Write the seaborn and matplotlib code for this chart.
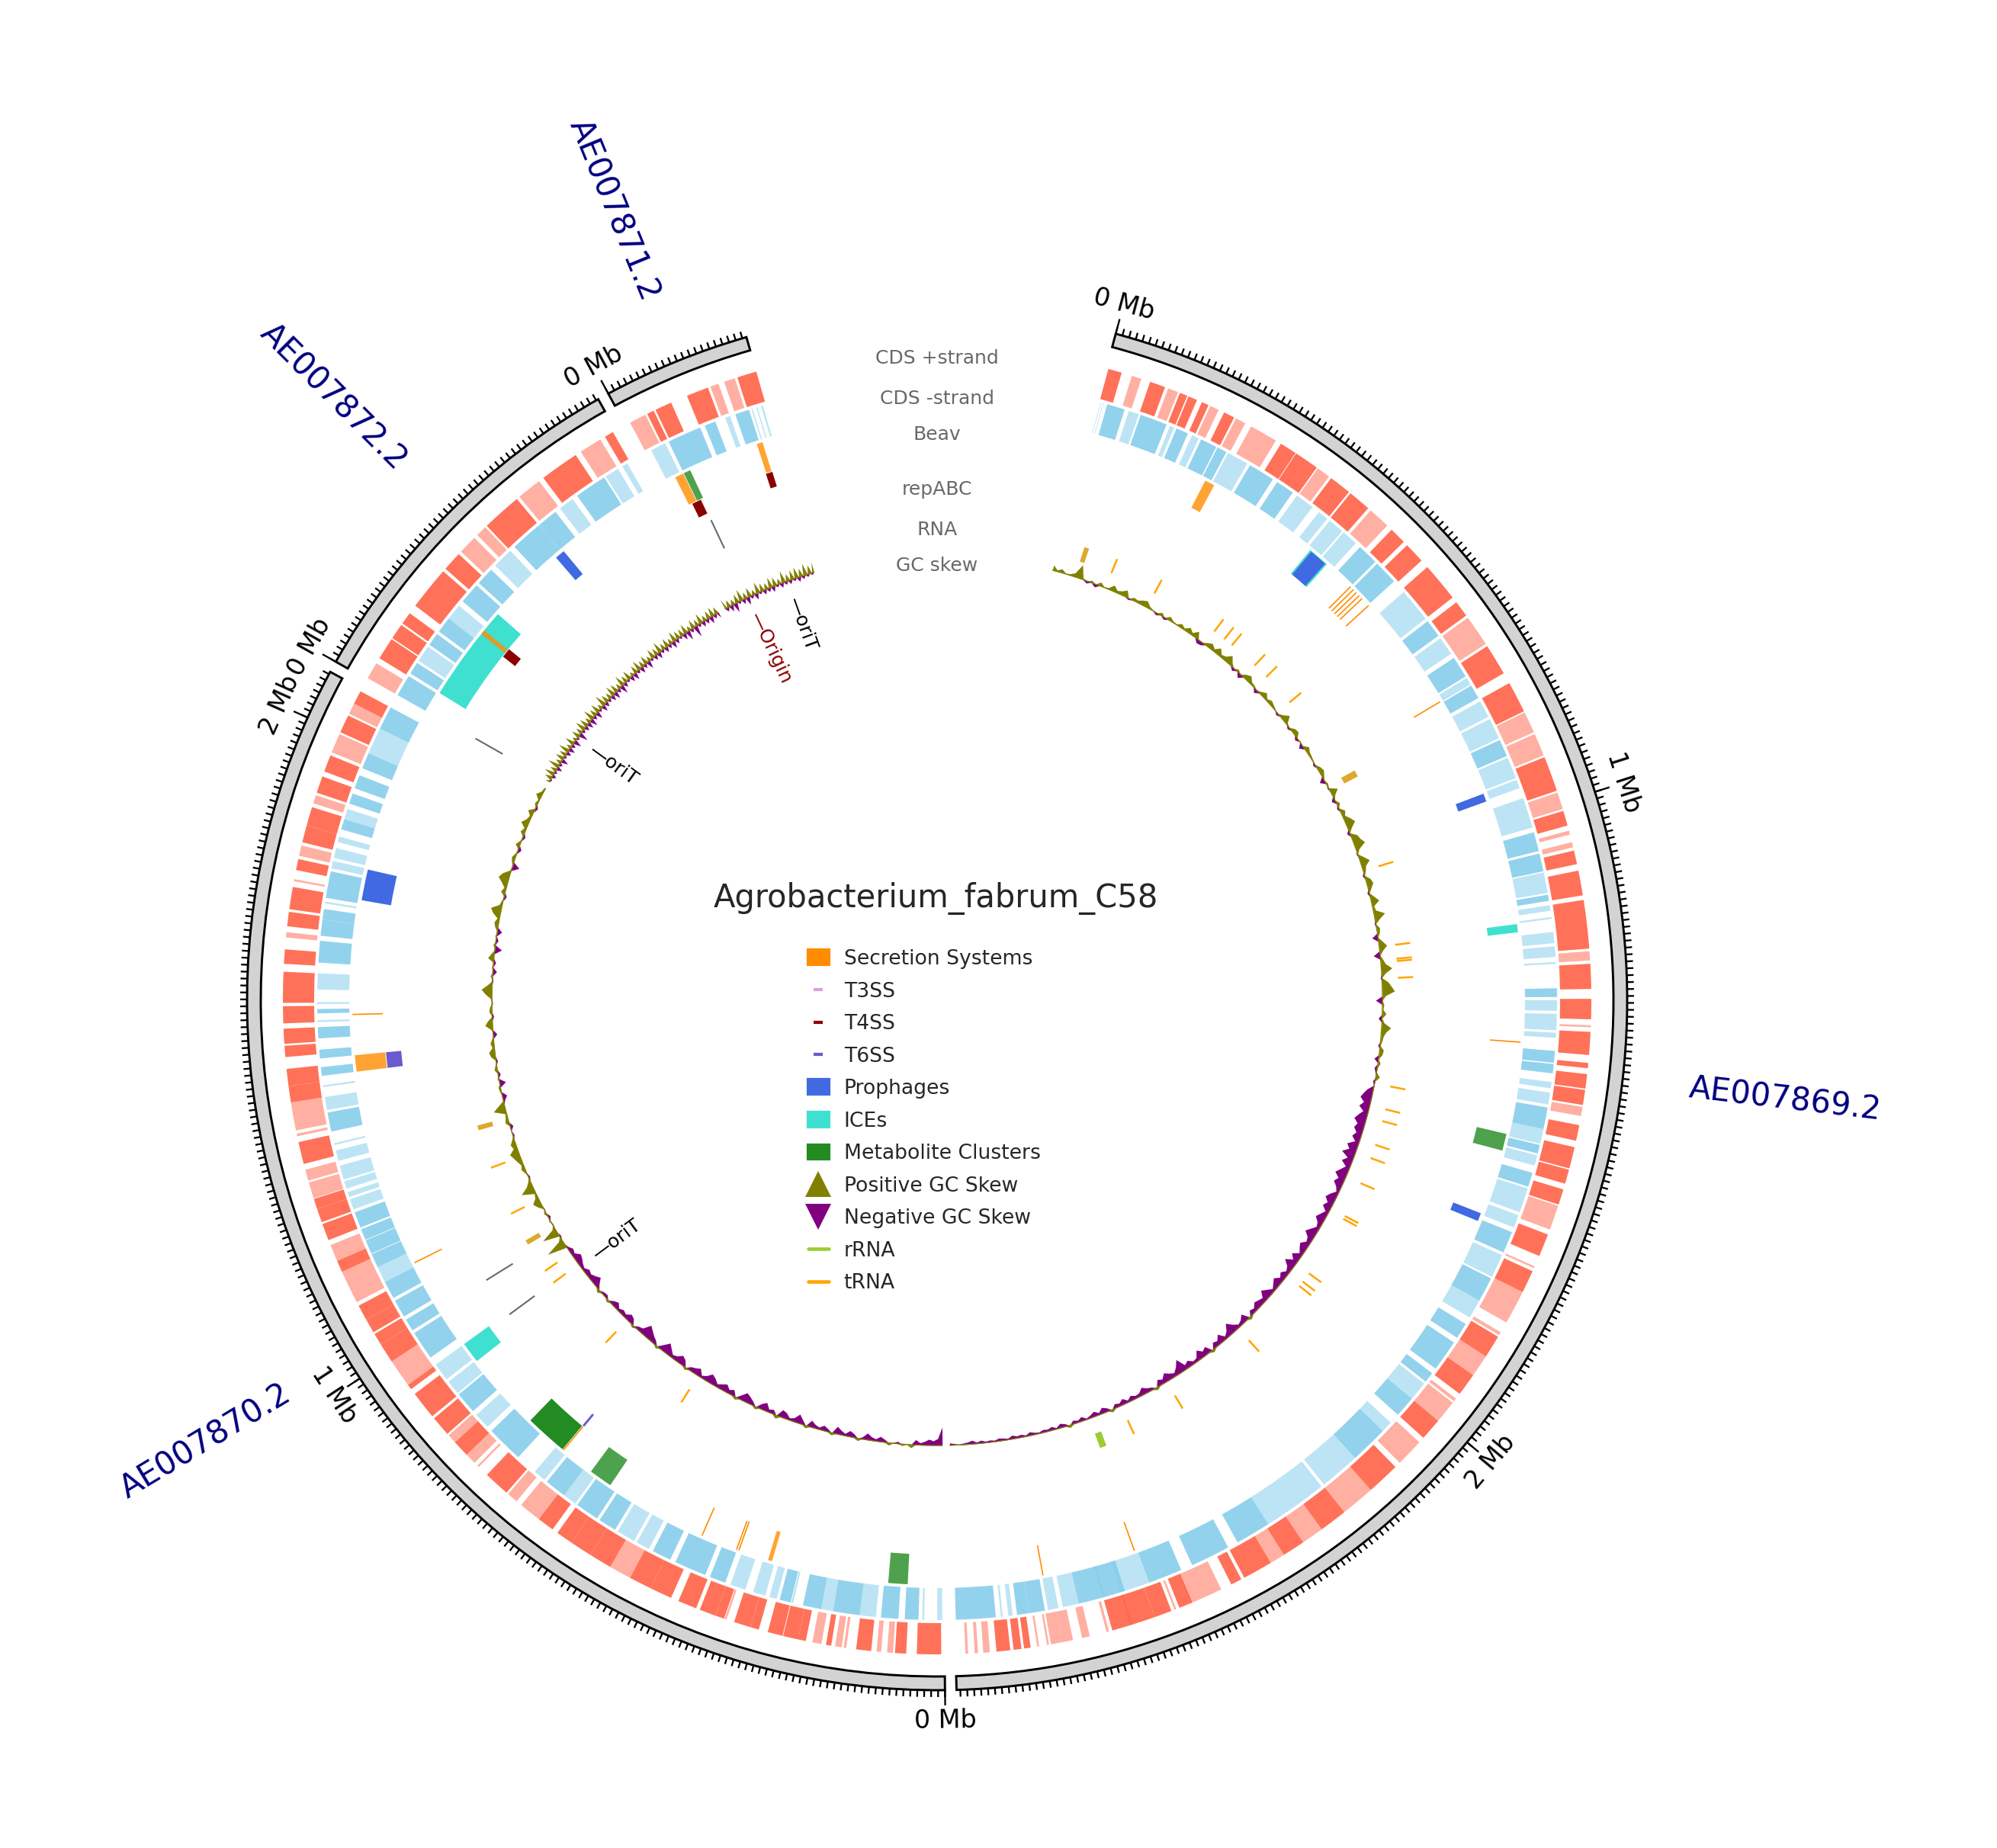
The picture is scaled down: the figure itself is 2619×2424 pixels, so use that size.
#!/usr/bin/env python3
"""Circular genome map of Agrobacterium fabrum C58 drawn on a polar axis"""

import numpy as np
import matplotlib
matplotlib.use('Agg')
import matplotlib.pyplot as plt
from matplotlib.lines import Line2D
from matplotlib.patches import Patch
import seaborn as sns

W, H = 2620, 2424

sector_names = ['AE007869.2', 'AE007870.2', 'AE007872.2', 'AE007871.2']
sector_len = [2817, 2053, 538, 214]
READ_PER_MB = 990
DEG_PER_KB = 0.058

# CDS + strand, (start, end) kb, dense runs and loosely packed runs
plus_869_dense = [(3,24),(69,93),(117,129),(131,145),(153,164),(190,207),(288,314),(315,353),(380,414),(417,452),
    (500,526),(533,565),(578,638),(647,672),(728,776),(793,841),(917,971),(1003,1026),(1065,1086),(1096,1134),
    (1141,1215),(1238,1276),(1291,1322),(1341,1376),(1388,1396),(1405,1427),(1429,1452),(1483,1507),(1517,1550),
    (1552,1574),(1583,1607),(1655,1690),(1715,1750),(1827,1862),(1896,1931),(1983,2017),(2078,2129),(2181,2224),
    (2258,2293),(2316,2362),(2367,2384),(2449,2470),(2483,2510),(2510,2548),(2546,2577),(2703,2713),(2717,2729),(2734,2755)]
plus_869_sparse = [(40,55),(98,114),(167,181),(210,226),(236,279),(355,376),(457,491),(676,724),(843,876),(879,914),
    (974,1000),(1034,1040),(1052,1060),(1219,1233),(1331,1334),(1455,1469),(1609,1647),(1707,1710),(1750,1802),
    (1819,1824),(1862,1896),(1940,1945),(1948,1983),(2026,2034),(2034,2069),(2129,2181),(2224,2258),(2293,2316),
    (2401,2451),(2475,2478),(2582,2586),(2612,2624),(2638,2655),(2655,2672),(2675,2678),(2690,2693),(2765,2775),
    (2783,2788),(2798,2802)]
plus_870_dense = [(5,42),(58,75),(111,134),(172,180),(211,223),(223,246),(247,270),(284,297),(297,323),(339,353),
    (353,378),(384,413),(425,459),(459,494),(528,563),(563,597),(597,623),(632,658),(721,761),(804,830),(847,878),
    (882,925),(934,942),(985,1016),(1016,1034),(1037,1059),(1059,1083),(1140,1158),(1192,1218),(1221,1242),
    (1242,1258),(1313,1347),(1408,1433),(1433,1459),(1477,1494),(1497,1520),(1528,1554),(1559,1606),(1618,1640),
    (1675,1697),(1701,1735),(1761,1778),(1804,1830),(1830,1859),(1882,1908),(1916,1942),(1980,2008),(2028,2049)]
plus_870_sparse = [(78,87),(96,103),(149,153),(156,166),(187,201),(335,338),(494,528),(658,692),(701,718),(778,781),
    (787,804),(830,844),(942,985),(1089,1115),(1115,1140),(1158,1184),(1259,1284),(1287,1304),(1356,1360),(1365,1408),
    (1658,1666),(1744,1747),(1783,1799),(1865,1878),(1947,1977),(2011,2028)]
plus_872_dense = [(37,71),(73,97),(100,119),(133,200),(205,235),(295,356),(407,467),(519,533)]
plus_872_sparse = [(2,28),(240,269),(275,292),(361,399),(476,511)]
plus_871_dense = [(37,48),(51,77),(103,137),(184,214)]
plus_871_sparse = [(8,34),(141,154),(163,180)]

# CDS - strand
minus_869_dense = [(16,45),(72,116),(133,153),(176,203),(205,221),(264,307),(315,345),(483,517),(521,560),(643,672),
    (715,750),(767,790),(865,893),(1022,1053),(1057,1086),(1124,1134),(1274,1288),(1374,1393),(1395,1410),(1465,1500),
    (1526,1540),(1572,1595),(1672,1707),(1753,1793),(1836,1862),(1871,1922),(1931,1948),(1983,2017),(2052,2114),
    (2288,2345),(2362,2426),(2445,2500),(2541,2577),(2574,2617),(2672,2698),(2698,2717),(2751,2815)]
minus_869_sparse = [(5,6),(9,10),(52,69),(122,129),(160,172),(224,259),(353,384),(397,414),(419,445),(448,474),(583,638),
    (677,707),(753,765),(796,824),(828,862),(896,931),(934,948),(965,1014),(1088,1121),(1141,1150),(1160,1163),
    (1184,1202),(1207,1224),(1232,1235),(1293,1310),(1315,1341),(1345,1353),(1424,1434),(1441,1460),(1500,1524),
    (1543,1560),(1598,1638),(1643,1664),(1712,1750),(1793,1824),(1952,1983),(2034,2052),(2114,2179),(2184,2234),
    (2234,2288),(2500,2548),(2617,2643),(2650,2667),(2724,2731),(2740,2743)]
minus_870_dense = [(41,63),(73,101),(135,178),(197,227),(247,265),(356,382),(390,442),(451,482),(551,580),(585,623),
    (649,684),(744,804),(847,882),(956,1003),(1008,1028),(1034,1063),(1068,1097),(1123,1146),(1147,1170),(1171,1189),
    (1192,1218),(1352,1383),(1442,1456),(1470,1484),(1502,1520),(1542,1549),(1623,1658),(1666,1692),(1692,1709),
    (1727,1770),(1839,1856),(1882,1899),(1908,1930),(1942,1968),(2011,2049)]
minus_870_sparse = [(3,11),(32,35),(109,135),(178,197),(243,246),(270,282),(289,309),(322,347),(489,511),(516,546),
    (627,649),(689,709),(813,839),(885,908),(913,942),(1097,1123),(1223,1240),(1244,1252),(1258,1270),(1273,1296),
    (1304,1321),(1330,1333),(1387,1408),(1424,1427),(1528,1531),(1557,1560),(1580,1606),(1718,1721),(1775,1787),
    (1792,1808),(1818,1827),(1856,1873),(1968,2011)]
minus_872_dense = [(2,37),(42,62),(97,118),(123,149),(184,218),(223,252),(304,356),(356,390),(433,485)]
minus_872_sparse = [(66,93),(149,175),(261,295),(399,424),(488,511),(519,528)]
minus_871_dense = [(48,103),(111,129),(163,186)]
minus_871_sparse = [(17,42),(146,154),(190,192),(198,200),(206,209)]

# Feature rings, (sector index, start, end)
secretion_blocks = [(0,212,229),(1,1442,1470),(1,294,301),(2,162,170),(3,32,47),(3,181,191)]
prophage_blocks = [(0,428,459),(0,936,950),(0,1662,1676),(1,1733,1786),(2,343,360)]
ice_blocks = [(0,425,462),(0,1164,1178),(1,906,942),(2,40,206)]
metabolite_blocks = [(0,1521,1550),(1,61,94),(1,597,637),(3,48,60)]
metabolite_dense = [(1,698,771)]
t4ss_blocks = [(2,155,172),(3,38,55),(3,180,192)]
t6ss_blocks = [(1,694,698),(1,1442,1470)]
beav_trna_lines = [(0,517),(0,524),(0,531),(0,538),(0,545),(0,561),(0,764),(0,1364),(0,2505),(0,2665),
    (1,353),(1,357),(1,420),(1,696),(1,1103),(1,1539)]
repabc_marks = [(1,937),(1,1014),(2,3),(3,56)]

# RNA ring
trna_869 = [124,226,378,405,426,491,526,600,1002,1174,1204,1209,1245,1479,1529,1555,1608,1638,1696,1774,1781,1919,1941,1953,2112,2310,2424]
trna_870 = [571,771,936,966,1104,1208]
gold_869 = [(52,62),(796,810)]
gold_870 = [(1031,1041),(1290,1300)]
rrna_869 = [(2486,2500)]

# GC skew per window, in thousandths
gc_869 = [7,2,5,1,2,5,18,2,-3,3,-4,5,1,2,8,3,5,9,-2,4,
    3,6,8,3,1,-3,4,-3,5,2,1,5,2,7,3,9,-5,-4,4,7,
    3,9,3,5,11,4,-4,3,-6,5,8,3,2,-5,3,7,2,5,3,1,
    -3,4,10,2,-3,5,6,-4,1,-6,6,3,2,1,-3,4,6,3,-7,2,
    -2,10,3,-5,4,-3,6,3,8,12,5,-4,8,10,14,4,-2,6,12,5,
    3,-3,6,8,4,-3,5,10,2,3,14,6,-2,4,3,-8,5,10,4,-9,
    3,6,14,5,-2,8,12,16,4,-9,2,1,5,-5,3,12,6,3,2,-3,
    5,4,-6,3,-4,-2,5,-3,-1,-8,-12,-15,-9,-14,-7,-12,-16,-10,-13,-8,
    -12,-6,-15,-10,-18,-8,-14,-6,-11,-16,-9,-13,-7,-4,-10,-14,-8,-12,-5,-9,
    -13,-7,-5,-10,-15,-8,-6,-12,-9,-5,-13,-7,-16,-8,-5,-10,-6,-12,-8,-4,
    -9,-14,-6,-8,-10,-5,-7,3,-11,-6,-4,-9,-16,-8,-4,-12,-6,-8,3,-10,
    -7,-13,-5,-4,-9,-6,-18,-10,-5,-8,-12,-6,-9,3,-4,-6,-10,-5,-4,-7,
    -3,-8,-4,-6,3,-5,-8,-3,-7,-4,-2,-6,-3,-5,3,-4,-6,-2,-5,-3,
    -4,-2,-3,-5,-2,-4,-3,-5,-2,-3,-4,-2,-3,-2,-4,-2,-5,-3,-2,-1,-2,-3]
gc_870 = [-24,-9,-6,-8,-5,-3,-7,4,-1,2,-3,-1,3,-4,-7,-3,-5,-9,-3,3,
    -5,-8,-3,-6,-10,3,-4,-7,-3,-5,-9,3,-6,-12,-5,-3,-8,-10,4,-6,
    -4,-11,-7,3,-5,-9,-12,-6,3,-8,-5,-10,-7,-4,-9,-12,-6,-3,-10,-7,
    -5,3,-8,-11,-6,-4,-9,-14,-7,3,-5,-8,-12,-16,-6,-4,3,-7,-9,-4,
    -6,-3,-8,-5,3,-4,-3,4,-5,-12,-8,-5,-7,-3,-5,-8,-10,-4,-6,-2,
    26,5,-2,22,4,-1,2,-3,3,-1,6,10,4,2,18,8,3,-2,2,5,
    3,6,9,12,5,7,3,-2,1,-4,5,3,2,16,8,-2,-6,2,3,-8,
    2,-3,4,2,-2,6,8,3,5,2,-5,2,10,6,-2,4,3,-1,2,9,
    14,6,-1,3,-5,2,-3,8,4,-9,3,-3,2,-6,4,6,3,10,14,4,
    2,-3,6,3,8,14,10,2,-9,3,5,2,-4,6,2,-3,6,3,10,5,
    3,8,-3,4,2,8,3,2]
gc_872 = [6,-2,10,-5,14,-3,9,-7,16,-4,8,-9,12,-3,10,-6,15,-8,7,-5,13,-10,6,-3,11,-12,9,-4,14,-6,12,-8,8,-10,15,-5,
    10,-9,13,-3,7,-8,16,-6,11,-4,9,-7,14,-9,12,-5,8,-11,15,-6,10,-3,13,-7,6,-9,11,-4,14,-8,9,-5,12,-10,
    7,-3,13,-6,10,-8,15,-4,9,-7,12,-5,8,-9,14,-6,11,-3,10,-8,13,-12,7,-5,12,-15,9,-4,14,-7,8,-6,11,-9,13,-5,10,-7]
gc_871 = [14,-5,10,-8,8,-12,12,-3,16,-6,9,-10,13,-4,7,-8,15,-3,11,-6,9,-5,14,-7,12,-3,8,-6,16,-4,10,-5,13,-3,15,-6,11,-4,16,-3,12,-2,14]

# Labels
origin_labels = [(1,930,'oriT','black'),(2,113,'oriT','black'),(3,149,'oriT','black'),(3,54,'Origin','darkred')]
track_labels = ['CDS +strand','CDS -strand','Beav','repABC','RNA','GC skew']
track_label_r = [842,789,742,670,617,570]
legend_labels = ['Secretion Systems','T3SS','T4SS','T6SS','Prophages','ICEs','Metabolite Clusters',
    'Positive GC Skew','Negative GC Skew','rRNA','tRNA']

# Radii of the rings, in axis units
R_BAND = (887, 905)
R_PLUS = (817, 858)
R_MINUS = (771, 813)
R_BEAV = (727, 767)
R_T4 = (706, 726)
R_REP = (655, 696)
R_RNA = (605, 625)
R_GC = 584

sns.set_theme(style='white')
plt.rcParams['font.family'] = ['DejaVu Sans']

GAP = 0.96
sector_start = [15.0]
for n in sector_len[:-1]:
    sector_start.append(sector_start[-1] + n * DEG_PER_KB + GAP)


def to_theta(sector, kb):
    return np.deg2rad(sector_start[sector] + np.asarray(kb, dtype=float) * DEG_PER_KB)


def draw_blocks(ax, sector, blocks, radii, color, alpha=1.0):
    arr = np.array(blocks, dtype=float)
    t0, t1 = to_theta(sector, arr[:, 0]), to_theta(sector, arr[:, 1])
    ax.bar((t0 + t1) / 2, radii[1] - radii[0], width=t1 - t0, bottom=radii[0],
           color=color, alpha=alpha, linewidth=0)


def draw_features(ax, features, radii, color, alpha=1.0):
    for sector, start, end in features:
        draw_blocks(ax, sector, [(start, end)], radii, color, alpha)


def draw_gc(ax, sector, values):
    vals = np.array(values, dtype=float)
    pos = np.linspace(0, sector_len[sector], len(vals))
    theta = to_theta(sector, pos)
    up, down = np.clip(vals, 0, None), np.clip(vals, None, 0)
    ax.fill_between(theta, R_GC, R_GC + up, color='olive', linewidth=0)
    ax.fill_between(theta, R_GC + down, R_GC, color='purple', linewidth=0)
    sns.lineplot(x=theta, y=np.full(len(theta), R_GC), ax=ax, color='olive', lw=0.3,
                 estimator=None, sort=False, legend=False)


fig = plt.figure(figsize=(W / 300, H / 300), dpi=300)
ax = fig.add_axes([(1229 - 1000) / W, 1 - (1312 + 1000) / H, 2000 / W, 2000 / H], projection='polar')
ax.set_theta_zero_location('N')
ax.set_theta_direction(-1)
ax.set_ylim(0, 1000)
ax.set_axis_off()

# Outer band, ticks and names
for i, name in enumerate(sector_names):
    t0, t1 = to_theta(i, 0), to_theta(i, sector_len[i])
    ax.bar((t0 + t1) / 2, R_BAND[1] - R_BAND[0], width=t1 - t0, bottom=R_BAND[0],
           color='lightgrey', edgecolor='black', linewidth=0.7)
    minor = to_theta(i, np.arange(0, sector_len[i], READ_PER_MB / 100))
    ax.vlines(minor, R_BAND[1], R_BAND[1] + 9, color='black', lw=0.55)
    for mb in range(0, sector_len[i] // READ_PER_MB + 1):
        th = to_theta(i, mb * READ_PER_MB)
        ax.vlines(th, R_BAND[1], R_BAND[1] + 20, color='black', lw=0.55)
        deg = np.rad2deg(th)
        rot = 180 - deg if 90 < deg < 270 else -deg
        ax.text(th, 945, f'{mb} Mb', fontsize=8, rotation=rot, rotation_mode='anchor',
                ha='center', va='center', color='black')
    mid = np.rad2deg((t0 + t1) / 2)
    rot = 180 - mid if 120 < mid < 270 else -mid
    if mid < 120:
        rot = 90 - mid
    elif mid >= 270:
        rot = 270 - mid
    else:
        rot = 270 - mid
    ax.text(np.deg2rad(mid), 1120, name, fontsize=10, color='navy', rotation=rot,
            rotation_mode='anchor', ha='center', va='center')

# Coding sequences
plus_tracks = [(plus_869_dense, plus_869_sparse), (plus_870_dense, plus_870_sparse),
               (plus_872_dense, plus_872_sparse), (plus_871_dense, plus_871_sparse)]
minus_tracks = [(minus_869_dense, minus_869_sparse), (minus_870_dense, minus_870_sparse),
                (minus_872_dense, minus_872_sparse), (minus_871_dense, minus_871_sparse)]
for i in range(4):
    draw_blocks(ax, i, plus_tracks[i][0], R_PLUS, 'tomato', 0.9)
    draw_blocks(ax, i, plus_tracks[i][1], R_PLUS, 'tomato', 0.5)
    draw_blocks(ax, i, minus_tracks[i][0], R_MINUS, 'skyblue', 0.9)
    draw_blocks(ax, i, minus_tracks[i][1], R_MINUS, 'skyblue', 0.55)

# Beav ring features
draw_features(ax, ice_blocks, R_BEAV, 'turquoise')
draw_features(ax, prophage_blocks, (R_BEAV[0], R_BEAV[1] - 1), 'royalblue')
draw_features(ax, metabolite_blocks, R_BEAV, 'forestgreen', 0.8)
draw_features(ax, metabolite_dense, R_BEAV, 'forestgreen', 1.0)
draw_features(ax, secretion_blocks, R_BEAV, 'darkorange', 0.8)
draw_features(ax, t4ss_blocks, R_T4, 'darkred')
draw_features(ax, t6ss_blocks, R_T4, 'slateblue')
for sector, kb in beav_trna_lines:
    ax.vlines(to_theta(sector, kb), R_BEAV[0], R_BEAV[1], color='darkorange', lw=0.4)

# repABC marks
for sector, kb in repabc_marks:
    ax.vlines(to_theta(sector, kb), R_REP[0], R_REP[1], color='dimgray', lw=0.5)

# RNA ring
ax.vlines(to_theta(0, trna_869), R_RNA[0], R_RNA[1], color='orange', lw=0.6)
ax.vlines(to_theta(1, trna_870), R_RNA[0], R_RNA[1], color='orange', lw=0.6)
draw_blocks(ax, 0, gold_869, R_RNA, 'goldenrod', 0.95)
draw_blocks(ax, 1, gold_870, R_RNA, 'goldenrod', 0.95)
draw_blocks(ax, 0, rrna_869, R_RNA, 'yellowgreen')

# GC skew
for i, values in enumerate([gc_869, gc_870, gc_872, gc_871]):
    draw_gc(ax, i, values)

# Origin marks
for sector, kb, name, color in origin_labels:
    th = to_theta(sector, kb)
    deg = np.rad2deg(th)
    rot = 270 - deg if deg > 180 else 90 - deg
    rot = (90 - deg) % 360 + 180 if False else rot
    ax.text(th, 561, '—' + name, fontsize=6, color=color, rotation=(90 - deg + 180),
            rotation_mode='anchor', ha='left', va='center')

# Track captions and title
for label, r in zip(track_labels, track_label_r):
    ax.text(0, r, label, fontsize=6, color='dimgray', ha='center', va='center')
fig.text(1227 / W, 1 - 1178 / H, 'Agrobacterium_fabrum_C58', fontsize=10, ha='center', va='center')

# Legend
handles = [
    Patch(color='darkorange'),
    Line2D([], [], marker='_', ms=3, mew=1, ls='none', color='plum'),
    Line2D([], [], marker='_', ms=3, mew=1, ls='none', color='darkred'),
    Line2D([], [], marker='_', ms=3, mew=1, ls='none', color='slateblue'),
    Patch(color='royalblue'),
    Patch(color='turquoise'),
    Patch(color='forestgreen'),
    Line2D([], [], marker='^', ms=8, ls='none', color='olive', mew=0),
    Line2D([], [], marker='v', ms=8, ls='none', color='purple', mew=0),
    Line2D([], [], color='yellowgreen', lw=1.1),
    Line2D([], [], color='orange', lw=1.1),
]
fig.legend(handles, legend_labels, loc='upper left', bbox_to_anchor=(1060 / W, 1 - 1245 / H),
           frameon=False, fontsize=6.4, handlelength=1.0, handletextpad=0.75, labelspacing=0.62,
           borderpad=0, borderaxespad=0)

fig.savefig('out.png', dpi=300)
